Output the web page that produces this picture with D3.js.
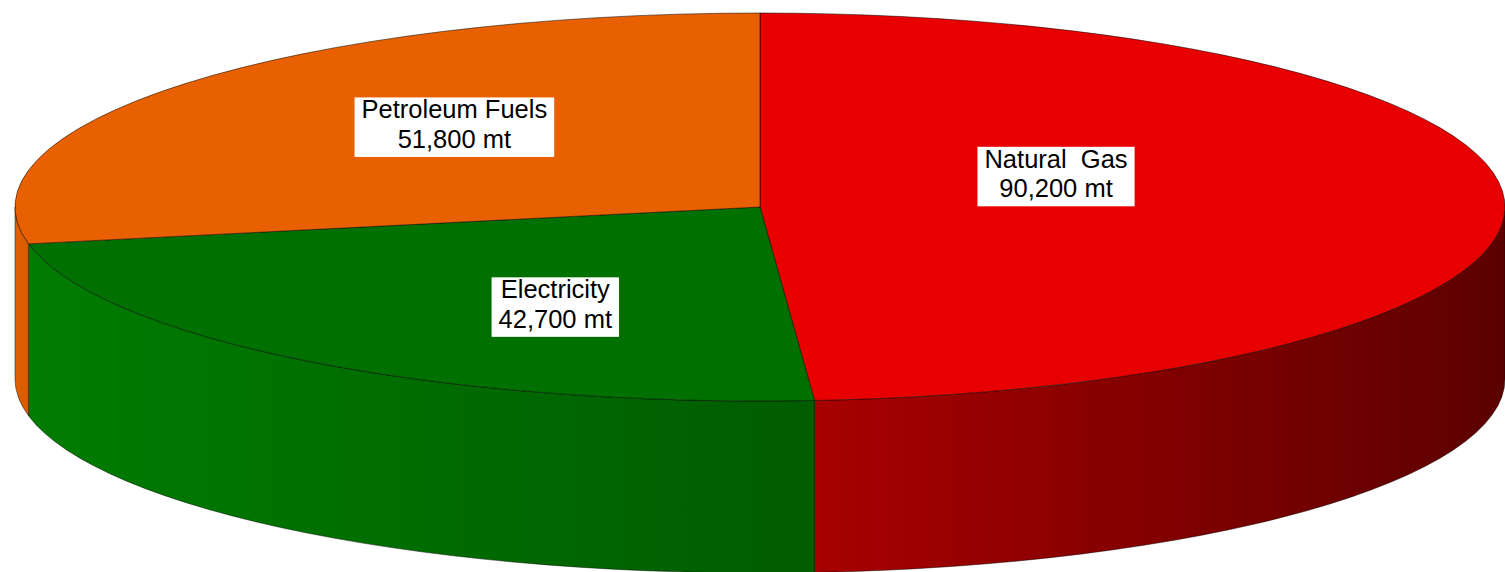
<!DOCTYPE html>
<html>
<head>
<meta charset="utf-8">
<script src="https://cdn.jsdelivr.net/npm/d3@7"></script>
<style>
  html, body { margin: 0; padding: 0; background: #fff; }
  svg { display: block; }
  text { font-family: "Liberation Sans", Arial, sans-serif; }
</style>
</head>
<body>
<svg id="chart" width="1505" height="572"></svg>
<script>
// Emissions by fuel source (metric tons)
const categories = ["Natural Gas", "Electricity", "Petroleum Fuels"];
const values = [90200, 42700, 51800];
const labelNames = ["Natural  Gas", "Electricity", "Petroleum Fuels"];
const valueUnit = " mt";

// Styling per slice: top face colour and wall gradient ends (left, right)
const topColors = ["#e80000", "#007000", "#e86000"];
const wallLeft = ["#a80000", "#007c00", "#e06000"];
const wallRight = ["#5c0000", "#005c00", "#d85a00"];

// Label nudges relative to the point on the slice's mid-angle
const labelNudge = [[-39, -32], [-1, 26], [-47, -29]];

const W = 1505, H = 572;
const cx = 760, cy = 207, rx = 745, ry = 194, depth = 172;

const svg = d3.select("#chart");
const defs = svg.append("defs");

const pie = d3.pie().sort(null).value(d => d);
const arcs = pie(values);

const pt = (a, k = 1, dy = 0) => [cx + k * rx * Math.sin(a), cy - k * ry * Math.cos(a) + dy];
const fmt = d3.format(",");

// Gradients for the walls, spanning each wall's horizontal extent
arcs.forEach((d, i) => {
  const s = Math.max(d.startAngle, Math.PI / 2);
  const e = Math.min(d.endAngle, 3 * Math.PI / 2);
  let x0 = cx - rx, x1 = cx + rx;
  if (e > s) {
    const xs = d3.range(0, 41).map(t => pt(s + (e - s) * t / 40)[0]);
    x0 = d3.min(xs); x1 = d3.max(xs);
  }
  const g = defs.append("linearGradient")
    .attr("id", "wall" + i)
    .attr("gradientUnits", "userSpaceOnUse")
    .attr("x1", x0).attr("x2", x1).attr("y1", 0).attr("y2", 0);
  g.append("stop").attr("offset", 0).attr("stop-color", wallLeft[i]);
  g.append("stop").attr("offset", 1).attr("stop-color", wallRight[i]);
});

// Front walls (only the lower half of the ellipse is visible)
const wallG = svg.append("g");
arcs.forEach((d, i) => {
  const s = Math.max(d.startAngle, Math.PI / 2);
  const e = Math.min(d.endAngle, 3 * Math.PI / 2);
  if (e <= s) return;
  const a = pt(s), b = pt(e), bd = pt(e, 1, depth), ad = pt(s, 1, depth);
  const p = `M${a}A${rx},${ry} 0 0 1 ${b}L${bd}A${rx},${ry} 0 0 0 ${ad}Z`;
  wallG.append("path")
    .attr("d", p)
    .attr("fill", `url(#wall${i})`)
    .attr("stroke", "rgba(0,0,0,0.45)")
    .attr("stroke-width", 1)
    .attr("stroke-linejoin", "round");
});

// Top faces
const topG = svg.append("g");
arcs.forEach((d, i) => {
  const a = pt(d.startAngle), b = pt(d.endAngle);
  const large = d.endAngle - d.startAngle > Math.PI ? 1 : 0;
  const p = `M${cx},${cy}L${a}A${rx},${ry} 0 ${large} 1 ${b}Z`;
  topG.append("path")
    .attr("d", p)
    .attr("fill", topColors[i])
    .attr("stroke", "rgba(0,0,0,0.5)")
    .attr("stroke-width", 1)
    .attr("stroke-linejoin", "round");
});

// Data labels in white boxes
const fontSize = 25.5, lineH = 29.5;
const labelG = svg.append("g");
arcs.forEach((d, i) => {
  const mid = (d.startAngle + d.endAngle) / 2;
  const [mx, my] = pt(mid, 0.45);
  const x = mx + labelNudge[i][0], y = my + labelNudge[i][1];
  const g = labelG.append("g");
  const rect = g.append("rect").attr("fill", "#fff");
  const t = g.append("text")
    .attr("text-anchor", "middle")
    .attr("font-size", fontSize)
    .attr("fill", "#000")
    .attr("xml:space", "preserve")
    .style("white-space", "pre");
  t.append("tspan").attr("x", x).attr("y", y - 4).text(labelNames[i]);
  t.append("tspan").attr("x", x).attr("y", y - 4 + lineH).text(fmt(values[i]) + valueUnit);
  const bb = t.node().getBBox();
  rect.attr("x", bb.x - 7).attr("y", bb.y + 2)
    .attr("width", bb.width + 14).attr("height", bb.height + 2);
});
</script>
</body>
</html>
